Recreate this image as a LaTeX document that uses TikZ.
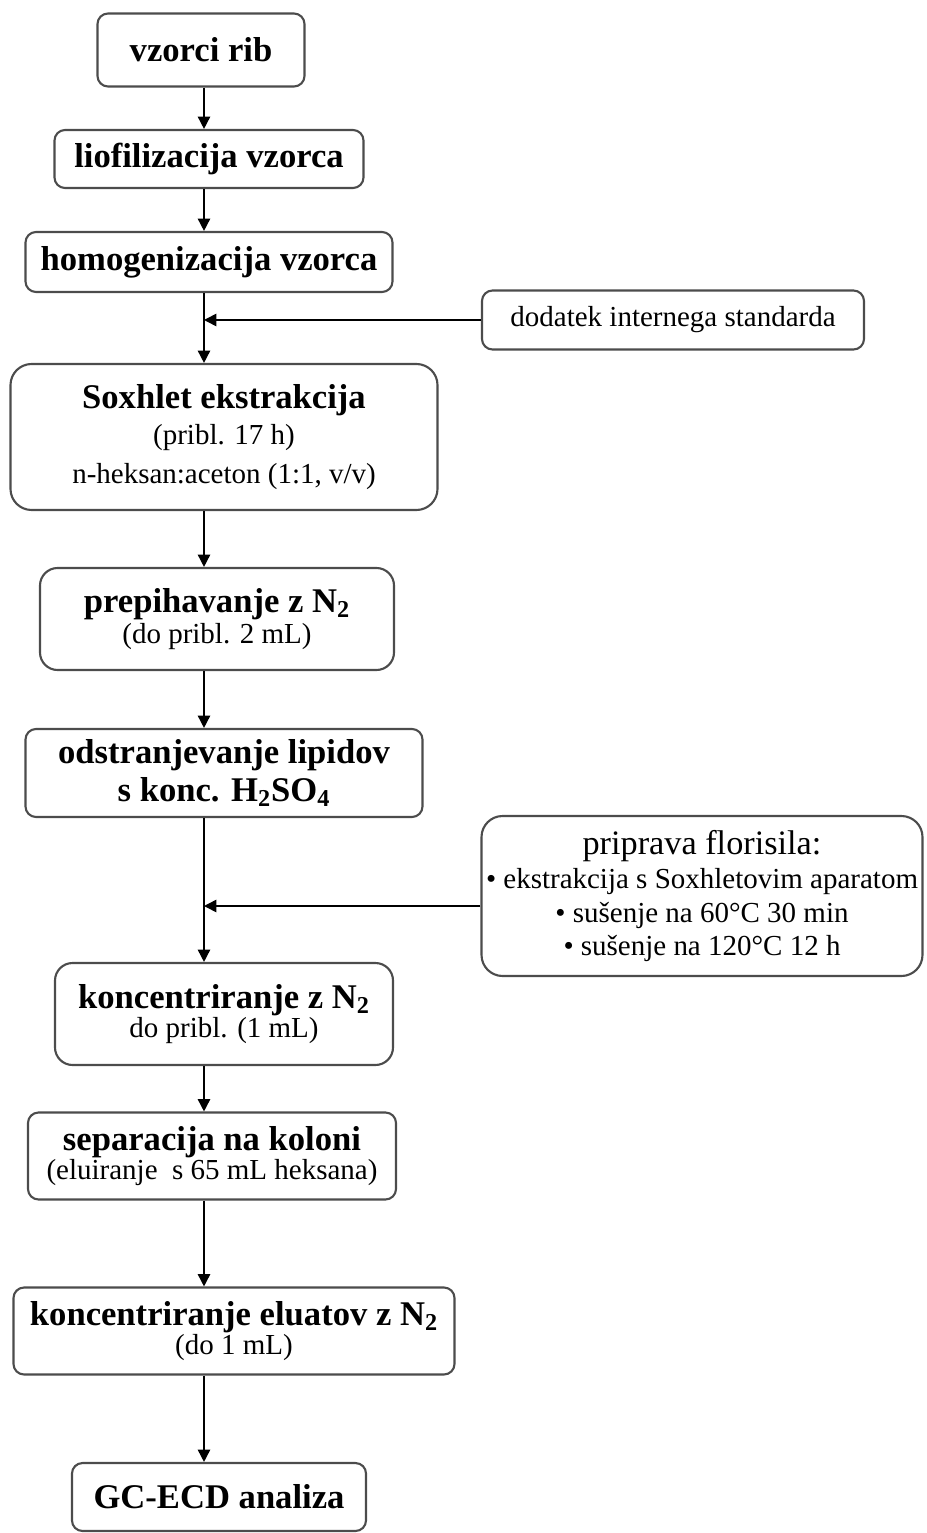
\documentclass[tikz,border=0pt]{standalone}
\usepackage{fontspec}
\setmainfont{Liberation Serif}
\usetikzlibrary{arrows.meta}

\newlength\px
\setlength\px{0.02cm}
\newcommand\bt{\fontsize{19.7}{22}\selectfont\bfseries}
\newcommand\nt{\fontsize{16.5}{19.5}\selectfont}

\tikzset{
  box/.style={draw=black!70, line width=1.2pt, rounded corners=6pt,
    fill=white, align=center, inner sep=0pt},
  bigbox/.style={box, rounded corners=12pt},
  arr/.style={-{Triangle[length=7pt,width=7pt]}, line width=0.9pt},
}

\begin{document}
\begin{tikzpicture}[x=0.02cm,y=-0.02cm]
      \useasboundingbox (0,0) rectangle (926,1533);
      \coordinate (spine) at (204,0);

      % main column
      \node[box, minimum width=207\px, minimum height=73\px] (rib) at (201,50)
        {\bt vzorci rib};
      \node[box, minimum width=309\px, minimum height=58\px] (lio) at (209,159)
        {\bt liofilizacija vzorca};
      \node[box, minimum width=367\px, minimum height=60\px] (hom) at (209,262)
        {\bt homogenizacija vzorca};
      \node[bigbox, minimum width=427\px, minimum height=146\px] (sox) at (224,437)
        {\bt Soxhlet ekstrakcija\\[4pt]
         \nt (pribl. 17 h)\\[6pt]
         \nt n-heksan:aceton (1:1, v/v)};
      \node[box, rounded corners=10pt, minimum width=354\px, minimum height=102\px] (pre) at (217,619)
        {\bt prepihavanje z N\textsubscript{2}\\[1pt]
         \nt (do pribl. 2 mL)};
      \node[box, minimum width=397\px, minimum height=88\px] (ods) at (224,773)
        {\bt odstranjevanje lipidov\\[3pt]
         \bt s konc. H\textsubscript{2}SO\textsubscript{4}};
      \node[box, rounded corners=10pt, minimum width=338\px, minimum height=102\px] (kon) at (224,1014)
        {\bt koncentriranje z N\textsubscript{2}\\
         \nt do pribl. (1 mL)};
      \node[box, minimum width=368\px, minimum height=87\px] (sep) at (212,1156)
        {\bt separacija na koloni\\
         \nt (eluiranje\ \ s 65 mL heksana)};
      \node[box, minimum width=441\px, minimum height=87\px] (elu) at (234,1331)
        {\bt koncentriranje eluatov z N\textsubscript{2}\\
         \nt (do 1 mL)};
      \node[box, minimum width=294\px, minimum height=68\px] (gc) at (219,1497)
        {\bt GC-ECD analiza};

      % side boxes
      \node[box, minimum width=382\px, minimum height=59\px] (dod) at (673,320)
        {\nt dodatek internega standarda};
      \node[bigbox, minimum width=441\px, minimum height=160\px] (flo) at (702,896)
        {\fontsize{19.5}{22}\selectfont priprava florisila:\\[3pt]
         \nt • ekstrakcija s Soxhletovim aparatom\\[3pt]
         \nt • sušenje na 60°C 30 min\\[3pt]
         \nt • sušenje na 120°C 12 h};

      % connectors
      \draw[arr] (rib.south -| spine) -- (lio.north -| spine);
      \draw[arr] (lio.south -| spine) -- (hom.north -| spine);
      \draw[arr] (hom.south -| spine) -- (sox.north -| spine);
      \draw[arr] (dod.west) -- (dod.west -| spine);
      \draw[arr] (sox.south -| spine) -- (pre.north -| spine);
      \draw[arr] (pre.south -| spine) -- (ods.north -| spine);
      \draw[arr] (ods.south -| spine) -- (kon.north -| spine);
      \draw[arr] ([yshift=-10\px]flo.west) -- ([yshift=-10\px]flo.west -| spine);
      \draw[arr] (kon.south -| spine) -- (sep.north -| spine);
      \draw[arr] (sep.south -| spine) -- (elu.north -| spine);
      \draw[arr] (elu.south -| spine) -- (gc.north -| spine);
\end{tikzpicture}
\end{document}
